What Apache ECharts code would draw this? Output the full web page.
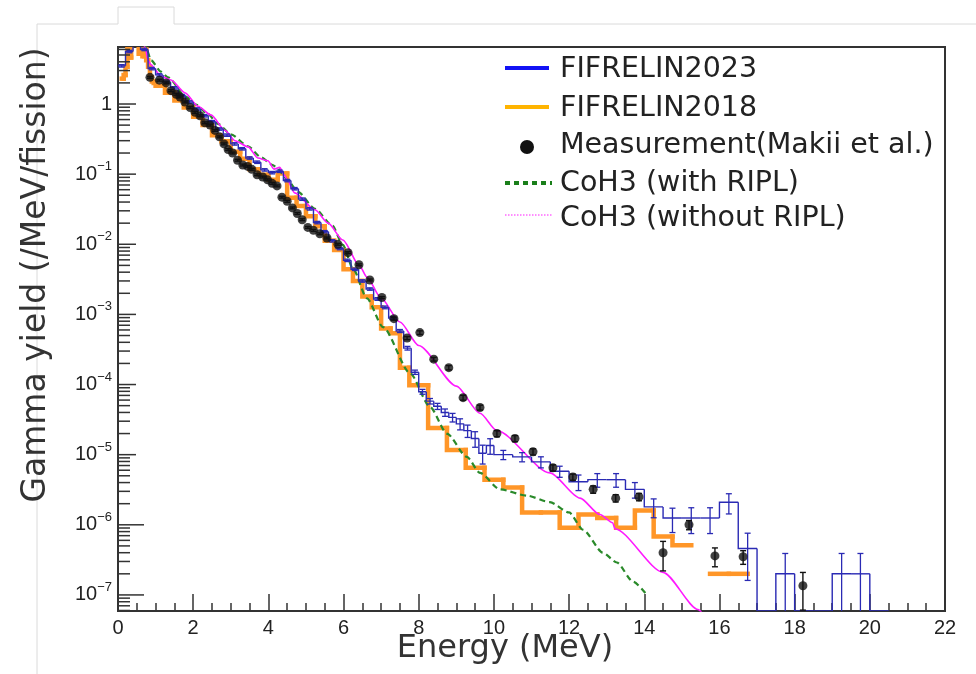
<!DOCTYPE html>
<html>
<head>
<meta charset="utf-8">
<script src="https://cdn.jsdelivr.net/npm/echarts@6/dist/echarts.min.js"></script>
<style>
  html, body { margin: 0; padding: 0; background: #ffffff; }
  #chart { width: 976px; height: 674px; }
</style>
</head>
<body>
<div id="chart"></div>
<script>
// ---------------- data ----------------
const seriesNames = ['FIFRELIN2023', 'FIFRELIN2018', 'Measurement(Makii et al.)',
                     'CoH3 (with RIPL)', 'CoH3 (without RIPL)'];
const xTitle = 'Energy (MeV)';
const yTitle = 'Gamma yield (/MeV/fission)';

// FIFRELIN2023 histogram: bin edges (MeV), yields (/MeV/fission), relative errors
const fif23Edges = [0, 0.2, 0.4, 0.6, 0.8, 1, 1.2, 1.4, 1.6, 1.8, 2, 2.2, 2.4, 2.6, 2.8, 3, 3.2, 3.4, 3.6, 3.8,
  4, 4.2, 4.4, 4.6, 4.8, 5, 5.2, 5.4, 5.6, 5.8, 6, 6.2, 6.4, 6.6, 6.8, 7, 7.2, 7.4, 7.6, 7.8,
  8, 8.2, 8.4, 8.6, 8.8, 9, 9.2, 9.4, 9.6, 9.8, 10, 10.5, 11, 11.5, 12, 12.5, 13, 13.5, 14, 14.5,
  15, 15.5, 16, 16.5, 17, 17.5, 18, 18.5, 19, 19.5, 20, 20.5];
const fif23Yield = [3.5, 5.6, 7.6, 6.0, 3.2, 2.6, 2.05, 1.70, 1.32, 1.07,
  0.85, 0.68, 0.56, 0.44, 0.36, 0.27, 0.23, 0.17, 0.148, 0.115,
  0.105, 0.110, 0.081, 0.062, 0.044, 0.032, 0.0204, 0.0151, 0.0112, 0.0087,
  0.0059, 0.0044, 0.0030, 0.0023, 0.00166, 0.00126, 8.9e-4, 5.8e-4, 3.3e-4, 1.5e-4,
  7.9e-5, 5.8e-5, 4.9e-5, 4.0e-5, 3.4e-5, 2.75e-5, 2.2e-5, 1.7e-5, 1.05e-5, 1.35e-5,
  1.0e-5, 9.3e-6, 7.9e-6, 5.8e-6, 4.1e-6, 4.4e-6, 4.4e-6, 3.2e-6, 1.8e-6, 1.25e-6,
  1.25e-6, 1.25e-6, 2.1e-6, 4.6e-7, 0, 2.0e-7, 0, 0, 2.0e-7, 2.0e-7, 0];
const fif23RelErr = [0.04, 0.04, 0.04, 0.04, 0.04, 0.04, 0.04, 0.04, 0.04, 0.04,
  0.04, 0.04, 0.04, 0.04, 0.04, 0.04, 0.04, 0.04, 0.04, 0.04,
  0.04, 0.04, 0.04, 0.04, 0.04, 0.04, 0.04, 0.04, 0.04, 0.04,
  0.04, 0.04, 0.04, 0.04, 0.045, 0.045, 0.05, 0.05, 0.06, 0.07,
  0.08, 0.09, 0.10, 0.12, 0.14, 0.18, 0.20, 0.25, 0.30, 0.25,
  0.15, 0.15, 0.18, 0.18, 0.25, 0.22, 0.22, 0.25, 0.30, 0.38,
  0.40, 0.40, 0.32, 0.65, 0, 0.95, 0, 0, 0.95, 0.95, 0];

// FIFRELIN2018 histogram: bin edges (MeV), yields (/MeV/fission)
const fif18Edges = [0.10, 0.15, 0.20, 0.25, 0.30, 0.35, 0.40, 0.45, 0.50, 0.55, 0.60, 0.65, 0.70, 0.75,
  0.80, 0.85, 0.90, 0.95, 1.00, 1.25, 1.50, 1.75, 2.00, 2.25, 2.50, 2.75, 3.00, 3.25, 3.50, 3.75,
  4.00, 4.25, 4.50, 4.75, 5.00, 5.25, 5.50, 5.75, 6.00, 6.25, 6.50, 6.75, 7.00, 7.25, 7.50, 7.75,
  8.25, 8.75, 9.25, 9.75, 10.25, 10.75, 11.25, 11.75, 12.25, 12.75, 13.25, 13.75, 14.25, 14.75,
  15.25, 15.75, 16.25, 16.75];
const fif18Yield = [2.3, 2.6, 3.4, 8.0, 4.6, 9.5, 12, 7.0, 10, 5.2, 8.5, 4.8, 6.0, 4.2, 3.4, 2.4, 2.1, 2.0,
  1.82, 1.45, 1.12, 0.89, 0.66, 0.50, 0.36, 0.295, 0.209, 0.166, 0.117, 0.098, 0.083, 0.102,
  0.046, 0.035, 0.025, 0.018, 0.0112, 0.0083, 0.0044, 0.0030, 0.0018, 0.00126, 6.3e-4, 5.4e-4, 1.74e-4,
  9.8e-5, 2.4e-5, 1.17e-5, 6.5e-6, 4.4e-6, 3.4e-6, 1.5e-6, 1.5e-6, 9.1e-7, 1.4e-6, 1.25e-6,
  9.1e-7, 1.6e-6, 6.8e-7, 5.1e-7, 0, 2.0e-7, 2.0e-7];

// Measurement (Makii et al.)
const measE = [0.85, 1.10, 1.28, 1.41, 1.55, 1.65, 1.78, 1.92, 2.05, 2.18,
  2.31, 2.45, 2.58, 2.70, 2.82, 2.93, 3.05, 3.18, 3.32, 3.45,
  3.56, 3.70, 3.85, 3.98, 4.10, 4.23, 4.36, 4.50, 4.64, 4.77,
  4.90, 5.05, 5.20, 5.37, 5.56, 5.85, 6.12, 6.41, 6.70, 7.02,
  7.34, 7.69, 8.03, 8.40, 8.80, 9.18, 9.63, 10.08, 10.56, 11.04,
  11.57, 12.10, 12.64, 13.24, 13.86, 14.50, 15.19, 15.88, 16.63, 18.22];
const measYield = [2.40, 2.19, 2.00, 1.55, 1.38, 1.26, 1.07, 0.89, 0.76, 0.68,
  0.54, 0.50, 0.42, 0.34, 0.27, 0.224, 0.20, 0.158, 0.135, 0.129,
  0.117, 0.098, 0.091, 0.083, 0.074, 0.068, 0.047, 0.041, 0.033, 0.0275,
  0.0224, 0.0174, 0.0158, 0.0141, 0.0123, 0.0100, 0.0076, 0.0051, 0.0031, 0.00174,
  8.7e-4, 4.6e-4, 5.5e-4, 2.3e-4, 1.74e-4, 6.5e-5, 4.7e-5, 2.0e-5, 1.7e-5, 1.1e-5,
  6.5e-6, 4.8e-6, 3.2e-6, 2.4e-6, 2.5e-6, 4.0e-7, 1.0e-6, 3.6e-7, 3.5e-7, 1.35e-7];
const measRelErr = [0.03, 0.03, 0.03, 0.03, 0.03, 0.03, 0.03, 0.03, 0.03, 0.03,
  0.03, 0.03, 0.03, 0.03, 0.03, 0.03, 0.03, 0.03, 0.03, 0.03,
  0.03, 0.03, 0.03, 0.03, 0.03, 0.03, 0.03, 0.03, 0.03, 0.03,
  0.03, 0.03, 0.03, 0.03, 0.03, 0.03, 0.03, 0.03, 0.03, 0.03,
  0.05, 0.05, 0.06, 0.06, 0.07, 0.08, 0.08, 0.10, 0.10, 0.10,
  0.10, 0.10, 0.12, 0.12, 0.12, 0.45, 0.15, 0.30, 0.22, 0.55];

// CoH3 with RIPL
const coh3RiplE = [0.55, 0.62, 0.74, 0.88, 1.14, 1.33, 1.81, 2.07, 2.39, 2.66,
  3.00, 3.46, 3.80, 4.10, 4.25, 4.36, 4.50, 4.79, 5.24, 5.70,
  5.98, 6.25, 6.62, 7.05, 7.77, 8.30, 8.75, 9.28, 9.63, 10.16,
  10.88, 11.49, 12.00, 12.37, 12.90, 13.27, 13.70, 14.07];
const coh3RiplY = [10, 8.0, 6.5, 4.2, 2.9, 2.4, 1.26, 0.98, 0.72, 0.52,
  0.37, 0.25, 0.175, 0.136, 0.122, 0.103, 0.083, 0.056, 0.032, 0.0185,
  0.0098, 0.0045, 0.0017, 6.6e-4, 1.45e-4, 4.8e-5, 2.0e-5, 9.3e-6, 5.5e-6, 3.2e-6,
  2.6e-6, 2.1e-6, 1.5e-6, 8.5e-7, 4.0e-7, 2.9e-7, 1.55e-7, 1.0e-7];

// CoH3 without RIPL
const coh3NoRiplE = [0.60, 0.72, 0.80, 0.88, 1.14, 1.41, 1.78, 2.13, 2.47, 2.85,
  3.11, 3.46, 3.72, 3.99, 4.15, 4.30, 4.42, 4.50, 4.70, 5.24,
  5.59, 5.98, 6.44, 6.62, 7.00, 7.50, 8.00, 9.00, 9.63, 10.08,
  11.49, 12.29, 12.82, 13.16, 13.22, 14.50, 15.43, 15.60];
const coh3NoRiplY = [9.0, 6.5, 4.2, 3.6, 2.5, 2.2, 1.45, 0.93, 0.70, 0.42,
  0.30, 0.245, 0.17, 0.155, 0.118, 0.125, 0.098, 0.083, 0.054, 0.031,
  0.020, 0.0115, 0.0048, 0.0034, 0.0017, 7.8e-4, 3.6e-4, 9.5e-5, 3.9e-5, 2.2e-5,
  5.5e-6, 2.4e-6, 1.4e-6, 1.07e-6, 8.8e-7, 2.1e-7, 6.2e-8, 5.0e-8];

// axis ranges
const X_MIN = 0, X_MAX = 22, X_STEP = 2;
const Y_MIN = 5.9e-8, Y_MAX = 6.5;

// ---------------- drawing ----------------
const LATIN = "'Liberation Sans', Arial, Helvetica, sans-serif";
const TEXT_FONT = "'DejaVu Sans', Verdana, sans-serif";
const C = {
  blue: '#2a2ab4', blueKey: '#1212f5',
  orange: '#ff9628', orangeKey: '#ffb400',
  green: '#2a8a2a', greenKey: '#1a7f1a',
  magenta: '#ff1aff', black: '#111111', axis: '#333333'
};

// step histogram with optional error bars, drawn bin by bin
function histogram(name, edges, yields, relErr, o) {
  const data = yields.map((v, i) => [edges[i], edges[i + 1], v, relErr ? relErr[i] : 0]);
  return {
    type: 'custom', name: name, z: o.z, clip: true, silent: true,
    encode: { x: [0, 1], y: 2 },
    data: data,
    renderItem: function (params, api) {
      const i = params.dataIndex;
      const lo = api.value(0), hi = api.value(1), v = api.value(2), re = api.value(3);
      const kids = [];
      if (!(v > 0) && !o.dropToFloor) return { type: 'group', children: kids };
      const style = { stroke: o.color, lineWidth: o.width, fill: null, lineCap: o.cap, lineJoin: 'miter' };
      const yv = v > 0 ? v : Y_MIN;
      const a = api.coord([lo, yv]);
      const b = api.coord([hi, yv]);
      const pts = [];
      const prev = i > 0 ? yields[i - 1] : null;
      if (prev !== null && (prev > 0 || o.dropToFloor)) {
        const p = api.coord([lo, prev > 0 ? prev : Y_MIN]);
        pts.push([a[0], p[1]]);
      }
      pts.push(a, b);
      kids.push({ type: 'polyline', shape: { points: pts }, style: style });
      if (v > 0 && re > 0) {
        const s = v * re;
        const xc = (lo + hi) / 2;
        const t = api.coord([xc, v + s]);
        const d = api.coord([xc, Math.max(v - s, Y_MIN)]);
        const es = { stroke: o.color, lineWidth: o.errWidth || 1.2 };
        const cap = 3;
        kids.push({ type: 'line', shape: { x1: t[0], y1: t[1], x2: d[0], y2: d[1] }, style: es });
        kids.push({ type: 'line', shape: { x1: t[0] - cap, y1: t[1], x2: t[0] + cap, y2: t[1] }, style: es });
        if (v - s > Y_MIN) {
          kids.push({ type: 'line', shape: { x1: d[0] - cap, y1: d[1], x2: d[0] + cap, y2: d[1] }, style: es });
        }
      }
      return { type: 'group', children: kids };
    }
  };
}

// log-axis tick marks (decades and 2..9 minors), drawn inside the frame
const yTicks = [];
for (let k = -8; k <= 0; k++) {
  for (let m = 1; m <= 9; m++) {
    const v = m * Math.pow(10, k);
    if (v >= Y_MIN && v <= Y_MAX) yTicks.push([X_MIN, v, m === 1 ? (k <= -6 ? 26 : 18) : 12]);
  }
}

const measData = measE.map((e, i) => [e, measYield[i], measRelErr[i]]);

const option = {
  animation: false,
  backgroundColor: '#ffffff',
  grid: { left: 118, top: 47, right: 31, bottom: 63, show: true,
          borderColor: C.axis, borderWidth: 2, backgroundColor: 'transparent' },
  xAxis: {
    type: 'value', min: X_MIN, max: X_MAX, interval: X_STEP,
    axisLine: { onZero: false, lineStyle: { color: C.axis, width: 2 } },
    axisTick: { inside: true, length: 17, lineStyle: { color: C.axis, width: 1.5 } },
    minorTick: { show: true, splitNumber: 4, length: 8, lineStyle: { color: C.axis, width: 1.5 } },
    splitLine: { show: false }, minorSplitLine: { show: false },
    axisLabel: { color: '#222', fontSize: 20, fontFamily: LATIN, margin: 7 }
  },
  yAxis: {
    type: 'log', logBase: 10, min: Y_MIN, max: Y_MAX,
    axisLine: { show: true, onZero: false, lineStyle: { color: C.axis, width: 2 } },
    axisTick: { show: false }, splitLine: { show: false },
    axisLabel: {
      margin: 6, color: '#222', fontFamily: LATIN,
      formatter: function (val) {
        const lg = Math.log10(val);
        const k = Math.round(lg);
        if (Math.abs(lg - k) > 1e-6) return '';
        return k === 0 ? '{b|1}' : '{b|10}{s|\u2212' + (-k) + '}';
      },
      rich: {
        b: { fontSize: 20, lineHeight: 28, fontFamily: LATIN, color: '#222' },
        s: { fontSize: 13, lineHeight: 14, verticalAlign: 'top', fontFamily: LATIN, color: '#222' }
      }
    }
  },
  series: [
    histogram(seriesNames[1], fif18Edges, fif18Yield, null,
              { color: C.orange, width: 4.5, cap: 'square', z: 2, dropToFloor: false }),
    {
      type: 'line', name: seriesNames[3], z: 3, silent: true, symbol: 'none',
      smooth: 0.25, smoothMonotone: 'x',
      data: coh3RiplE.map((e, i) => [e, coh3RiplY[i]]),
      lineStyle: { color: C.green, width: 2.2, type: [6, 4] }
    },
    {
      type: 'line', name: seriesNames[4], z: 4, silent: true, symbol: 'none',
      smooth: 0.25, smoothMonotone: 'x',
      data: coh3NoRiplE.map((e, i) => [e, coh3NoRiplY[i]]),
      lineStyle: { color: C.magenta, width: 1.6 }
    },
    histogram(seriesNames[0], fif23Edges, fif23Yield, fif23RelErr,
              { color: C.blue, width: 1.4, cap: 'butt', z: 5, dropToFloor: true, errWidth: 1.3 }),
    {
      type: 'custom', name: 'measErr', z: 6, silent: true, clip: true,
      encode: { x: 0, y: 1 },
      data: measData,
      renderItem: function (params, api) {
        const e = api.value(0), v = api.value(1), re = api.value(2);
        const s = v * re;
        const t = api.coord([e, v + s]);
        const d = api.coord([e, Math.max(v - s, Y_MIN)]);
        const st = { stroke: C.black, lineWidth: 1.4 };
        const cap = 3;
        return { type: 'group', children: [
          { type: 'line', shape: { x1: t[0], y1: t[1], x2: d[0], y2: d[1] }, style: st },
          { type: 'line', shape: { x1: t[0] - cap, y1: t[1], x2: t[0] + cap, y2: t[1] }, style: st },
          { type: 'line', shape: { x1: d[0] - cap, y1: d[1], x2: d[0] + cap, y2: d[1] }, style: st }
        ] };
      }
    },
    {
      type: 'scatter', name: seriesNames[2], z: 7, silent: true,
      symbol: 'circle', symbolSize: 9,
      data: measData.map(p => [p[0], p[1]]),
      itemStyle: { color: C.black }
    },
    {
      type: 'custom', name: 'yTicks', z: 8, silent: true, clip: false,
      encode: { x: 0, y: 1 },
      data: yTicks,
      renderItem: function (params, api) {
        const p = api.coord([api.value(0), api.value(1)]);
        return { type: 'line', shape: { x1: p[0], y1: p[1], x2: p[0] + api.value(2), y2: p[1] },
                 style: { stroke: C.axis, lineWidth: 1.5 } };
      }
    }
  ],
  graphic: [
    // light page frame
    { type: 'polyline', silent: true, shape: { points: [[37, 674], [37, 24], [118, 24], [118, 7], [174, 7], [174, 24], [976, 24]] },
      style: { stroke: '#dadada', lineWidth: 1, fill: null } },
    // axis titles
    { type: 'text', x: 36, y: 275, rotation: Math.PI / 2, silent: true,
      style: { text: yTitle, font: '33px ' + TEXT_FONT, fill: '#333', align: 'center', verticalAlign: 'middle' } },
    { type: 'text', x: 505, y: 649, silent: true,
      style: { text: xTitle, font: '32px ' + TEXT_FONT, fill: '#333', align: 'center', verticalAlign: 'middle' } },
    // key
    { type: 'line', silent: true, shape: { x1: 505, y1: 68, x2: 549, y2: 68 }, style: { stroke: C.blueKey, lineWidth: 4 } },
    { type: 'line', silent: true, shape: { x1: 505, y1: 107, x2: 549, y2: 107 }, style: { stroke: C.orangeKey, lineWidth: 4 } },
    { type: 'circle', silent: true, shape: { cx: 527, cy: 147, r: 7 }, style: { fill: C.black } },
    { type: 'line', silent: true, shape: { x1: 505, y1: 183, x2: 552, y2: 183 }, style: { stroke: C.greenKey, lineWidth: 4, lineDash: [5, 4] } },
    { type: 'line', silent: true, shape: { x1: 505, y1: 215, x2: 552, y2: 215 }, style: { stroke: C.magenta, lineWidth: 1, lineDash: [1.5, 1.5] } },
    { type: 'text', x: 560, y: 70, silent: true, style: { text: seriesNames[0], font: '28.5px ' + TEXT_FONT, fill: '#222', verticalAlign: 'middle' } },
    { type: 'text', x: 560, y: 109, silent: true, style: { text: seriesNames[1], font: '28.5px ' + TEXT_FONT, fill: '#222', verticalAlign: 'middle' } },
    { type: 'text', x: 560, y: 146, silent: true, style: { text: seriesNames[2], font: '28.5px ' + TEXT_FONT, fill: '#222', verticalAlign: 'middle' } },
    { type: 'text', x: 560, y: 184, silent: true, style: { text: seriesNames[3], font: '28.5px ' + TEXT_FONT, fill: '#222', verticalAlign: 'middle' } },
    { type: 'text', x: 560, y: 219, silent: true, style: { text: seriesNames[4], font: '28.5px ' + TEXT_FONT, fill: '#222', verticalAlign: 'middle' } }
  ]
};

const chart = echarts.init(document.getElementById('chart'), null, { renderer: 'canvas' });
chart.setOption(option);
</script>
</body>
</html>
